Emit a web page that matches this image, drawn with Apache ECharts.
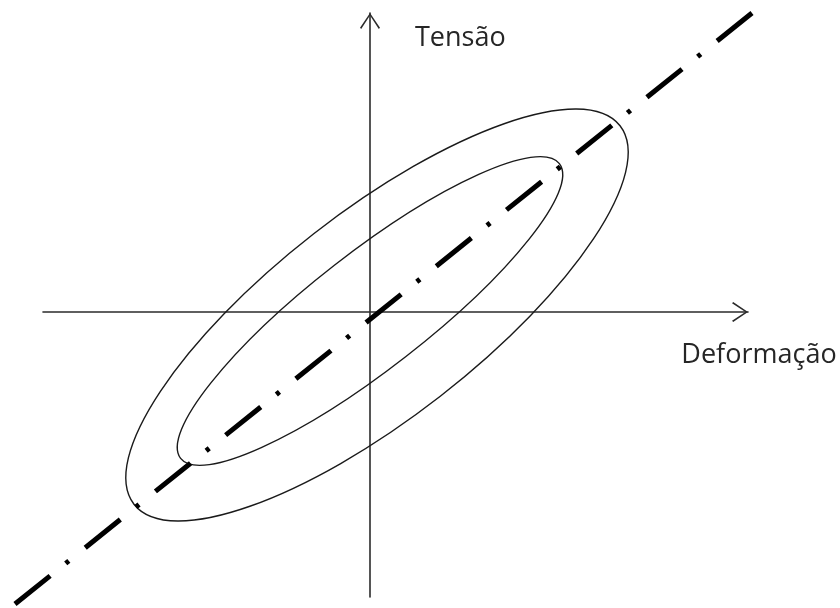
<!DOCTYPE html>
<html>
<head>
<meta charset="utf-8">
<script src="https://cdn.jsdelivr.net/npm/echarts@6/dist/echarts.min.js"></script>
<style>
  html, body { margin: 0; padding: 0; background: #fff; }
  #chart { width: 840px; height: 608px; }
</style>
</head>
<body>
<div id="chart"></div>
<script>
// axis ranges (origin where the axes cross)
const xRange = [-327, 378]
const yRange = [-285, 299]

// loading line through the origin (dash-dot)
const loadLineX = [-355, 382]
const loadLineY = [-292, 299]

// hysteresis ellipses: centre, semi-axes, tilt in degrees
const ellipseNames = ['externa', 'interna']
const ellipseCx = [7, 0]
const ellipseCy = [-3, 1]
const ellipseMajor = [308, 240]
const ellipseMinor = [103, 58]
const ellipseTilt = [37.9, 37.9]

const axisNames = { x: 'Deformação', y: 'Tensão' }

const chevron = 'path://M10,0 L20,14.8 L18.8,16 L10,2.6 L1.2,16 L0,14.8 Z'

let chart = echarts.init(document.getElementById('chart'))

let ellipseData = ellipseNames.map(function (n, i) {
    return [ellipseCx[i], ellipseCy[i], ellipseMajor[i], ellipseMinor[i], ellipseTilt[i]]
})
let lineData = [[loadLineX[0], loadLineY[0], loadLineX[1], loadLineY[1]]]

function axisBase (min, max) {
    return {
        type: 'value',
        min: min,
        max: max,
        axisLine: {
            onZero: true,
            lineStyle: { color: '#2b2b2b', width: 1.6 },
            symbol: ['none', chevron],
            symbolSize: [20, 16],
            symbolOffset: [0, -8]
        },
        axisTick: { show: false },
        axisLabel: { show: false },
        splitLine: { show: false }
    }
}

let xAxis = axisBase(xRange[0], xRange[1])
xAxis.name = axisNames.x
xAxis.nameLocation = 'end'
xAxis.nameGap = 0
xAxis.nameTextStyle = {
    fontFamily: 'Open Sans', fontSize: 27, color: '#262626',
    align: 'center', verticalAlign: 'top', padding: [30, 0, 0, 22]
}

let yAxis = axisBase(yRange[0], yRange[1])
yAxis.name = axisNames.y
yAxis.nameLocation = 'end'
yAxis.nameGap = -25
yAxis.nameTextStyle = {
    fontFamily: 'Open Sans', fontSize: 27, color: '#262626',
    align: 'left', verticalAlign: 'middle', padding: [0, 0, 0, 45]
}

let option = {
    animation: false,
    backgroundColor: '#fff',
    grid: { left: 43, right: 92, top: 13, bottom: 11 },
    xAxis: xAxis,
    yAxis: yAxis,
    series: [
        {
            type: 'custom',
            clip: false,
            data: ellipseData,
            renderItem: function (params, api) {
                let c = api.coord([api.value(0), api.value(1)])
                let s = api.size([api.value(2), api.value(3)])
                return {
                    type: 'ellipse',
                    x: c[0],
                    y: c[1],
                    rotation: api.value(4) * Math.PI / 180,
                    shape: { cx: 0, cy: 0, rx: s[0], ry: s[1] },
                    style: { fill: 'none', stroke: '#1a1a1a', lineWidth: 1.4 }
                }
            }
        },
        {
            type: 'custom',
            clip: false,
            data: lineData,
            encode: { x: [0, 2], y: [1, 3] },
            renderItem: function (params, api) {
                let p1 = api.coord([api.value(0), api.value(1)])
                let p2 = api.coord([api.value(2), api.value(3)])
                return {
                    type: 'line',
                    shape: { x1: p1[0], y1: p1[1], x2: p2[0], y2: p2[1] },
                    style: { stroke: '#000', lineWidth: 5, lineDash: [45, 20, 4, 21], lineCap: 'butt' }
                }
            }
        }
    ]
}
chart.setOption(option)
</script>
</body>
</html>
